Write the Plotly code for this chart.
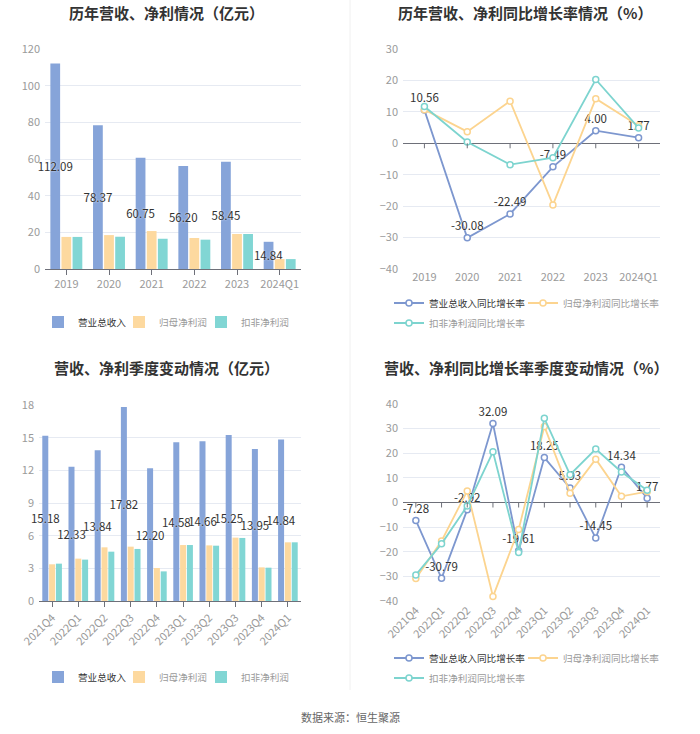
import plotly.graph_objects as go

# ---------------- data ----------------
years = ["2019", "2020", "2021", "2022", "2023", "2024Q1"]
rev_y = [112.09, 78.37, 60.75, 56.20, 58.45, 14.84]
np_y = [17.5, 18.5, 20.7, 16.9, 19.1, 5.4]
kf_y = [17.5, 17.6, 16.5, 16.0, 19.1, 5.4]

rev_g_y = [10.56, -30.08, -22.49, -7.49, 4.00, 1.77]
np_g_y = [10.7, 3.7, 13.4, -19.6, 14.2, 5.6]
kf_g_y = [11.7, 0.4, -6.8, -4.6, 20.3, 4.9]

quarters = ["2021Q4", "2022Q1", "2022Q2", "2022Q3", "2022Q4",
            "2023Q1", "2023Q2", "2023Q3", "2023Q4", "2024Q1"]
rev_q = [15.18, 12.33, 13.84, 17.82, 12.20, 14.58, 14.66, 15.25, 13.95, 14.84]
np_q = [3.37, 3.89, 4.93, 4.99, 3.03, 5.14, 5.11, 5.82, 3.09, 5.39]
kf_q = [3.43, 3.80, 4.53, 4.78, 2.72, 5.14, 5.08, 5.79, 3.06, 5.39]

rev_g_q = [-7.28, -30.79, -2.92, 32.09, -19.61, 18.25, 5.93, -14.45, 14.34, 1.77]
np_g_q = [-30.9, -15.6, 4.7, -38.2, -11.0, 30.9, 3.8, 17.6, 2.5, 4.4]
kf_g_q = [-29.4, -16.8, -1.4, 20.6, -20.3, 34.2, 11.3, 21.7, 12.4, 5.0]

bar_names = ["营业总收入", "归母净利润", "扣非净利润"]
line_names = ["营业总收入同比增长率", "归母净利润同比增长率", "扣非净利润同比增长率"]

# ---------------- styles ----------------
W, H = 700, 734
BLUE, ORANGE, TEAL = "#86a4d9", "#fdd99f", "#81d6d4"
LBLUE, LORANGE, LTEAL = "#7d97cf", "#fcd48f", "#7dd4cf"
GRID = "#e6eaf2"
AXIS = "#6e7079"
TICK = dict(size=11, color="#9a9a9a")
LABEL = dict(size=11.5, color="#333333", shadow="0px 0px 2px #ffffff")
FONT = "Noto Sans CJK SC, Noto Sans, sans-serif"


def px(x):
    return x / W


def py(y):
    return 1 - y / H


def soft(name):
    return '<span style="color:#9a9a9a">%s</span>' % name


fig = go.Figure()

# legend slots: (x of entry, y centre) in page pixels
BAR_LEG_X = [38, 119, 201]
LINE_LEG_XY_TOP = [(389, 303), (523, 303), (389, 323)]
LINE_LEG_XY_BOT = [(389, 658), (523, 658), (389, 678)]

legbase = dict(orientation="h", font=dict(size=9.6, color="#333333", family=FONT),
               bgcolor="rgba(0,0,0,0)", itemclick=False, itemdoubleclick=False,
               xanchor="left", yanchor="middle", borderwidth=0)
legends = {}
leg_id = [0]


def new_legend(x, y):
    leg_id[0] += 1
    key = "legend" if leg_id[0] == 1 else f"legend{leg_id[0]}"
    legends[key] = dict(legbase, x=px(x), y=py(y))
    return key


def add_bars(cats, series, colors, xa, ya, legy):
    for i, (vals, col) in enumerate(zip(series, colors)):
        fig.add_trace(go.Bar(
            x=cats, y=vals, name=bar_names[i] if i == 0 else soft(bar_names[i]),
            marker=dict(color=col, line=dict(width=0)),
            xaxis=xa, yaxis=ya, legend=new_legend(BAR_LEG_X[i], legy),
            text=[f"{v:.2f}" for v in vals] if i == 0 else None,
            textposition="inside" if i == 0 else "none",
            insidetextanchor="middle", constraintext="none", textangle=0,
            textfont=LABEL, cliponaxis=False,
        ))


def add_lines(cats, series, colors, xa, ya, legxy):
    for i, (vals, col) in enumerate(zip(series, colors)):
        fig.add_trace(go.Scatter(
            x=cats, y=vals, name=line_names[i] if i == 0 else soft(line_names[i]),
            mode="lines+markers+text" if i == 0 else "lines+markers",
            line=dict(color=col, width=1.8),
            marker=dict(symbol="circle", size=6, color="white", line=dict(color=col, width=1.5)),
            text=[f"{v:.2f}" for v in vals] if i == 0 else None,
            textposition="top center", textfont=LABEL,
            xaxis=xa, yaxis=ya, legend=new_legend(*legxy[i]),
            cliponaxis=False,
        ))
    # small tick marks hanging below the zero line at each category (by category index)
    for k in range(len(cats)):
        fig.add_shape(type="line", xref=xa, yref=ya, x0=k, x1=k, ysizemode="pixel",
                      yanchor=0, y0=0, y1=-5, line=dict(color=AXIS, width=1))


add_bars(years, [rev_y, np_y, kf_y], [BLUE, ORANGE, TEAL], "x", "y", 322)
add_lines(years, [rev_g_y, np_g_y, kf_g_y], [LBLUE, LORANGE, LTEAL], "x2", "y2", LINE_LEG_XY_TOP)
add_bars(quarters, [rev_q, np_q, kf_q], [BLUE, ORANGE, TEAL], "x3", "y3", 677)
add_lines(quarters, [rev_g_q, np_g_q, kf_g_q], [LBLUE, LORANGE, LTEAL], "x4", "y4", LINE_LEG_XY_BOT)

xbase = dict(type="category", showgrid=False, zeroline=False, tickfont=TICK, fixedrange=True,
             automargin=False)
ybase = dict(showgrid=True, gridcolor=GRID, gridwidth=1, showline=False, tickfont=TICK,
             ticks="", fixedrange=True, automargin=False, ticklabelstandoff=4)

fig.update_layout(
    width=W, height=H, margin=dict(l=0, r=0, t=0, b=0, autoexpand=False),
    paper_bgcolor="white", plot_bgcolor="white",
    font=dict(family=FONT, color="#333333"),
    barmode="group", bargap=0.22, bargroupgap=0.12,
    xaxis=dict(xbase, domain=[px(45), px(301)], anchor="y", showline=True, linecolor=AXIS,
               ticks="outside", ticklen=5, tickcolor=AXIS),
    yaxis=dict(ybase, domain=[py(269), py(49)], anchor="x", range=[0, 120], dtick=20,
               zeroline=False),
    xaxis2=dict(xbase, domain=[px(403), px(660)], anchor="y2", showline=False, ticks="",
                range=[-0.5, len(years) - 0.5]),
    yaxis2=dict(ybase, domain=[py(269), py(49)], anchor="x2", range=[-40, 30], dtick=10,
                zeroline=True, zerolinecolor=AXIS, zerolinewidth=1),
    xaxis3=dict(xbase, domain=[px(39), px(301)], anchor="y3", showline=True, linecolor=AXIS,
                ticks="outside", ticklen=5, tickcolor=AXIS, tickangle=-45),
    yaxis3=dict(ybase, domain=[py(601), py(405)], anchor="x3", range=[0, 18], dtick=3,
                zeroline=False),
    xaxis4=dict(xbase, domain=[px(403), px(660)], anchor="y4", showline=False, ticks="",
                tickangle=-45, range=[-0.5, len(quarters) - 0.5]),
    yaxis4=dict(ybase, domain=[py(601), py(404)], anchor="x4", range=[-40, 40], dtick=10,
                zeroline=True, zerolinecolor=AXIS, zerolinewidth=1),
    showlegend=True,
    **legends,
)

titles = [
    ("历年营收、净利情况（亿元）", 166, 12),
    ("历年营收、净利同比增长率情况（%）", 525, 12),
    ("营收、净利季度变动情况（亿元）", 166, 367),
    ("营收、净利同比增长率季度变动情况（%）", 526, 367),
]
for t, x, y in titles:
    fig.add_annotation(text=f"<b>{t}</b>", x=px(x), y=py(y), xref="paper", yref="paper",
                       xanchor="center", yanchor="middle", showarrow=False,
                       font=dict(size=15, color="#333333", family=FONT))

fig.add_annotation(text="数据来源：恒生聚源", x=0.5, y=py(717), xref="paper", yref="paper",
                   xanchor="center", yanchor="middle", showarrow=False,
                   font=dict(size=11, color="#666666", family=FONT))

fig.add_shape(type="line", xref="paper", yref="paper", x0=0.5, x1=0.5, y0=py(690), y1=1,
              line=dict(color="#f0f0f0", width=1), layer="below")

fig.write_html(
    "out.html",
    config={"displayModeBar": False},
    post_script="document.body.style.margin='0';document.body.style.padding='0';"
                "document.body.style.overflow='hidden';",
)
